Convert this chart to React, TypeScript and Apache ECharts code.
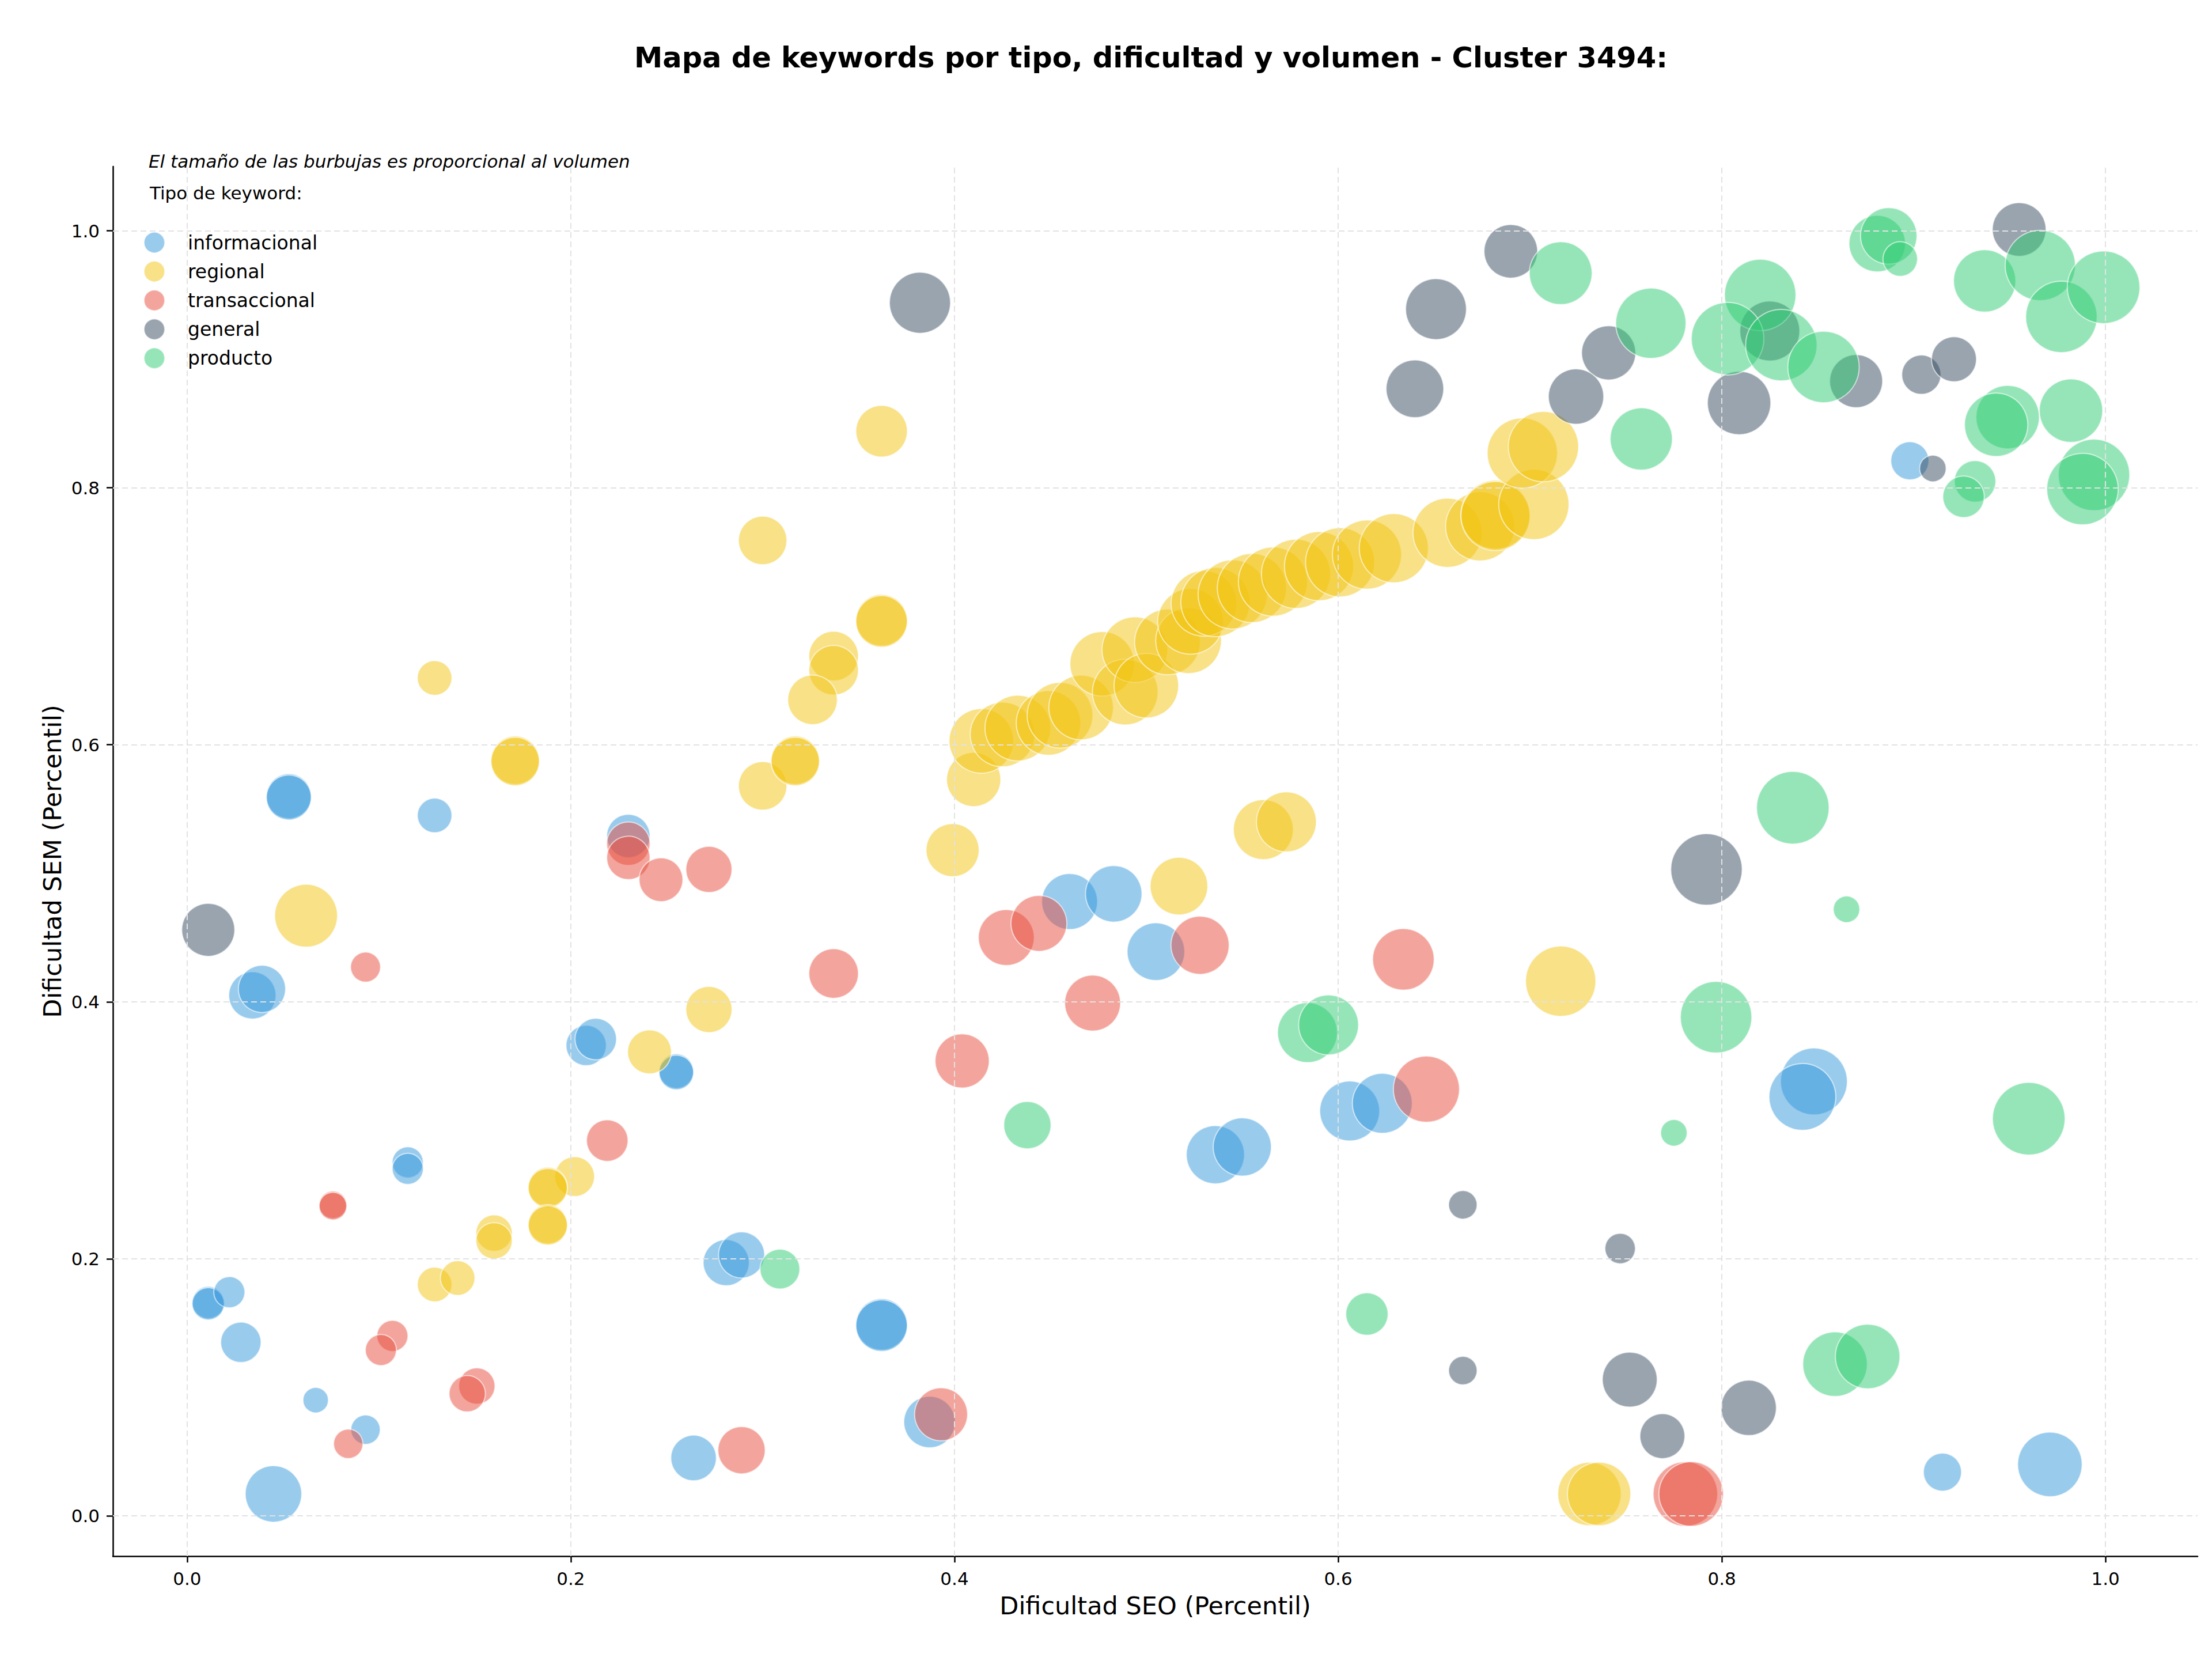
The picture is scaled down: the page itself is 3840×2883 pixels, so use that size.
import React, { useEffect, useRef } from "react";
import * as echarts from "echarts";

// [dificultad SEO, dificultad SEM, volumen]
const informacional: number[][] = [
  [0.053, 0.560, 1521], [0.053, 0.559, 1521], [0.129, 0.545, 900], [0.230, 0.529, 1414],
  [0.034, 0.405, 1681], [0.039, 0.410, 1681], [0.208, 0.366, 1225], [0.213, 0.371, 1296],
  [0.115, 0.275, 729], [0.115, 0.270, 729], [0.011, 0.166, 784], [0.011, 0.165, 784],
  [0.022, 0.174, 729], [0.028, 0.135, 1225], [0.067, 0.090, 484], [0.093, 0.067, 650],
  [0.045, 0.017, 2401], [0.255, 0.346, 900], [0.255, 0.345, 900], [0.460, 0.478, 2352],
  [0.483, 0.484, 2401], [0.505, 0.439, 2500], [0.281, 0.197, 1600], [0.289, 0.203, 1600],
  [0.362, 0.149, 1998], [0.362, 0.148, 1998], [0.387, 0.073, 1998], [0.264, 0.045, 1560],
  [0.606, 0.315, 2704], [0.623, 0.321, 2704], [0.536, 0.281, 2550], [0.550, 0.287, 2550],
  [0.898, 0.821, 1089], [0.848, 0.338, 3364], [0.842, 0.326, 3364], [0.915, 0.034, 1089],
  [0.971, 0.040, 3136],
];

const regional: number[][] = [
  [0.129, 0.652, 900], [0.171, 0.588, 1764], [0.171, 0.587, 1764], [0.062, 0.467, 2970],
  [0.241, 0.361, 1444], [0.202, 0.264, 1190], [0.188, 0.256, 1156], [0.188, 0.255, 1156],
  [0.188, 0.227, 1156], [0.188, 0.226, 1156], [0.160, 0.220, 992], [0.160, 0.214, 992],
  [0.129, 0.180, 900], [0.141, 0.185, 900], [0.362, 0.844, 1998], [0.300, 0.759, 1764],
  [0.362, 0.697, 1998], [0.362, 0.696, 1998], [0.337, 0.669, 1849], [0.337, 0.658, 1849],
  [0.326, 0.635, 1849], [0.300, 0.568, 1764], [0.317, 0.588, 1764], [0.317, 0.587, 1764],
  [0.272, 0.394, 1600], [0.399, 0.518, 2116], [0.410, 0.573, 2209], [0.517, 0.490, 2500],
  [0.561, 0.534, 2704], [0.573, 0.540, 2704], [0.716, 0.416, 3721], [0.731, 0.017, 3025],
  [0.736, 0.017, 3025],
  [0.414, 0.603, 3136], [0.425, 0.608, 3136], [0.433, 0.613, 3249], [0.449, 0.617, 3136],
  [0.455, 0.623, 3249], [0.466, 0.629, 3136], [0.477, 0.663, 3136], [0.489, 0.641, 3249],
  [0.494, 0.674, 3249], [0.500, 0.646, 3136], [0.511, 0.680, 3249], [0.522, 0.681, 3249],
  [0.523, 0.696, 3249], [0.530, 0.710, 3249], [0.536, 0.711, 3600], [0.545, 0.717, 3600],
  [0.555, 0.722, 3600], [0.566, 0.727, 3600], [0.578, 0.733, 3600], [0.590, 0.739, 3600],
  [0.601, 0.742, 3600], [0.615, 0.748, 3600], [0.629, 0.753, 3600], [0.657, 0.765, 3600],
  [0.674, 0.770, 3600], [0.682, 0.779, 3600], [0.682, 0.778, 3600], [0.702, 0.787, 3721],
  [0.696, 0.827, 3721], [0.707, 0.832, 3721],
];

const transaccional: number[][] = [
  [0.230, 0.523, 1414], [0.230, 0.512, 1414], [0.247, 0.495, 1444], [0.272, 0.503, 1600],
  [0.093, 0.427, 676], [0.219, 0.292, 1296], [0.076, 0.242, 576], [0.076, 0.241, 576],
  [0.107, 0.140, 729], [0.101, 0.129, 729], [0.151, 0.101, 992], [0.146, 0.095, 992],
  [0.084, 0.056, 650], [0.337, 0.422, 1849], [0.404, 0.354, 2209], [0.427, 0.450, 2352],
  [0.444, 0.461, 2352], [0.472, 0.399, 2352], [0.528, 0.444, 2550], [0.393, 0.079, 2116],
  [0.289, 0.051, 1681], [0.634, 0.433, 2852], [0.646, 0.332, 3295], [0.781, 0.017, 3136],
  [0.784, 0.017, 3136],
];

const general: number[][] = [
  [0.011, 0.456, 2116], [0.382, 0.944, 2809], [0.690, 0.984, 2162], [0.651, 0.939, 2788],
  [0.640, 0.877, 2500], [0.741, 0.905, 2209], [0.724, 0.871, 2304], [0.955, 1.001, 2172],
  [0.825, 0.922, 2704], [0.870, 0.883, 2116], [0.809, 0.866, 3025], [0.904, 0.888, 1156],
  [0.921, 0.900, 1521], [0.910, 0.815, 529], [0.792, 0.503, 3844], [0.665, 0.242, 610],
  [0.747, 0.208, 697], [0.665, 0.113, 610], [0.752, 0.106, 2266], [0.769, 0.062, 1521],
  [0.814, 0.084, 2304],
];

const producto: number[][] = [
  [0.438, 0.304, 1681], [0.309, 0.192, 1190], [0.716, 0.967, 2970], [0.763, 0.928, 3721],
  [0.758, 0.838, 2916], [0.881, 0.990, 2401], [0.887, 0.996, 2401], [0.893, 0.978, 900],
  [0.937, 0.961, 2916], [0.966, 0.973, 3721], [0.977, 0.933, 3844], [0.999, 0.956, 3969],
  [0.820, 0.950, 3844], [0.803, 0.916, 3969], [0.831, 0.911, 3844], [0.853, 0.894, 3844],
  [0.932, 0.805, 1296], [0.926, 0.793, 1296], [0.949, 0.855, 3025], [0.943, 0.849, 3025],
  [0.982, 0.860, 3025], [0.994, 0.810, 3844], [0.988, 0.799, 3844], [0.837, 0.551, 3969],
  [0.865, 0.472, 529], [0.797, 0.388, 3844], [0.960, 0.309, 3969], [0.859, 0.118, 3136],
  [0.876, 0.124, 3136], [0.584, 0.376, 2704], [0.595, 0.382, 2704], [0.775, 0.298, 529],
  [0.615, 0.157, 1347],
];

const typeNames = ["informacional", "regional", "transaccional", "general", "producto"];
const typeData = [informacional, regional, transaccional, general, producto];
const typeColors = [
  "rgba(52,152,219,0.5)",
  "rgba(241,196,15,0.5)",
  "rgba(231,76,60,0.5)",
  "rgba(52,73,94,0.5)",
  "rgba(46,204,113,0.5)",
];

const xTicks = [0, 0.2, 0.4, 0.6, 0.8, 1.0];
const yTicks = [0, 0.2, 0.4, 0.6, 0.8, 1.0];

const titleText = "Mapa de keywords por tipo, dificultad y volumen - Cluster 3494:";
const subtitleText = "El tamaño de las burbujas es proporcional al volumen";
const legendTitle = "Tipo de keyword:";
const xName = "Dificultad SEO (Percentil)";
const yName = "Dificultad SEM (Percentil)";

const FONT = "DejaVu Sans";

export default function App() {
  const ref = useRef<HTMLDivElement>(null);
  useEffect(() => {
    if (!ref.current) return;
    const chart = echarts.init(ref.current, null, { renderer: "svg" });
    const axisCommon = {
      type: "value" as const,
      axisLine: { show: true, onZero: false, lineStyle: { color: "#000", width: 2.5 } },
      axisTick: { show: true, length: 11, lineStyle: { color: "#000", width: 2.5 } },
      splitLine: { show: false },
      nameTextStyle: { fontFamily: FONT, fontSize: 43, color: "#000" },
    };
    const gridSeries: any = {
      type: "scatter",
      name: "__grid",
      data: [],
      z: 1,
      silent: true,
      markLine: {
        silent: true,
        symbol: ["none", "none"],
        label: { show: false },
        lineStyle: { color: "#e2e2e2", type: [10, 6], width: 2 },
        data: [
          ...xTicks.map((v) => ({ xAxis: v })),
          ...yTicks.map((v) => ({ yAxis: v })),
        ],
      },
    };
    const scatterSeries = typeNames.map((name, i) => ({
      type: "scatter",
      name,
      data: typeData[i],
      z: 2,
      symbol: "circle",
      symbolSize: (d: number[]) => 2 * Math.sqrt(d[2]),
      itemStyle: {
        color: typeColors[i],
        borderColor: "rgba(255,255,255,0.6)",
        borderWidth: 2,
        opacity: 1,
      },
      emphasis: { disabled: true },
    }));
    chart.setOption({
      animation: false,
      backgroundColor: "#ffffff",
      grid: { left: 196, top: 289, width: 3619, height: 2412 },
      xAxis: {
        ...axisCommon,
        min: -0.0387,
        max: 1.048,
        name: xName,
        nameLocation: "middle",
        nameGap: 64,
        axisTick: { ...axisCommon.axisTick, customValues: xTicks },
        axisLabel: {
          customValues: xTicks,
          formatter: (v: number) => v.toFixed(1),
          fontFamily: FONT,
          fontSize: 31,
          color: "#000",
          margin: 23,
        },
      },
      yAxis: {
        ...axisCommon,
        min: -0.0314,
        max: 1.05,
        name: yName,
        nameLocation: "middle",
        nameGap: 84,
        axisTick: { ...axisCommon.axisTick, customValues: yTicks },
        axisLabel: {
          customValues: yTicks,
          formatter: (v: number) => v.toFixed(1),
          fontFamily: FONT,
          fontSize: 31,
          color: "#000",
          margin: 23,
        },
      },
      legend: {
        data: typeNames,
        orient: "vertical",
        left: 244,
        top: 397,
        itemWidth: 36,
        itemHeight: 36,
        itemGap: 12.2,
        icon: "circle",
        textStyle: {
          fontFamily: FONT,
          fontSize: 33,
          color: "#000",
          padding: [0, 0, 0, 35],
        },
      },
      graphic: [
        {
          type: "text",
          x: 1998,
          y: 100,
          style: {
            text: titleText,
            fontFamily: FONT,
            fontSize: 49.5,
            fontWeight: "bold",
            fill: "#000",
            textAlign: "center",
            textVerticalAlign: "middle",
          },
        },
        {
          type: "text",
          x: 258,
          y: 280,
          style: {
            text: subtitleText,
            fontFamily: FONT,
            fontSize: 31,
            fontStyle: "italic",
            fill: "#000",
            textAlign: "left",
            textVerticalAlign: "middle",
          },
        },
        {
          type: "text",
          x: 260,
          y: 335,
          style: {
            text: legendTitle,
            fontFamily: FONT,
            fontSize: 31,
            fill: "#000",
            textAlign: "left",
            textVerticalAlign: "middle",
          },
        },
      ],
      series: [gridSeries, ...scatterSeries],
    });
    return () => chart.dispose();
  }, []);
  return (
    <div
      ref={ref}
      style={{ position: "absolute", left: 0, top: 0, width: 3840, height: 2883, background: "#fff" }}
    />
  );
}
